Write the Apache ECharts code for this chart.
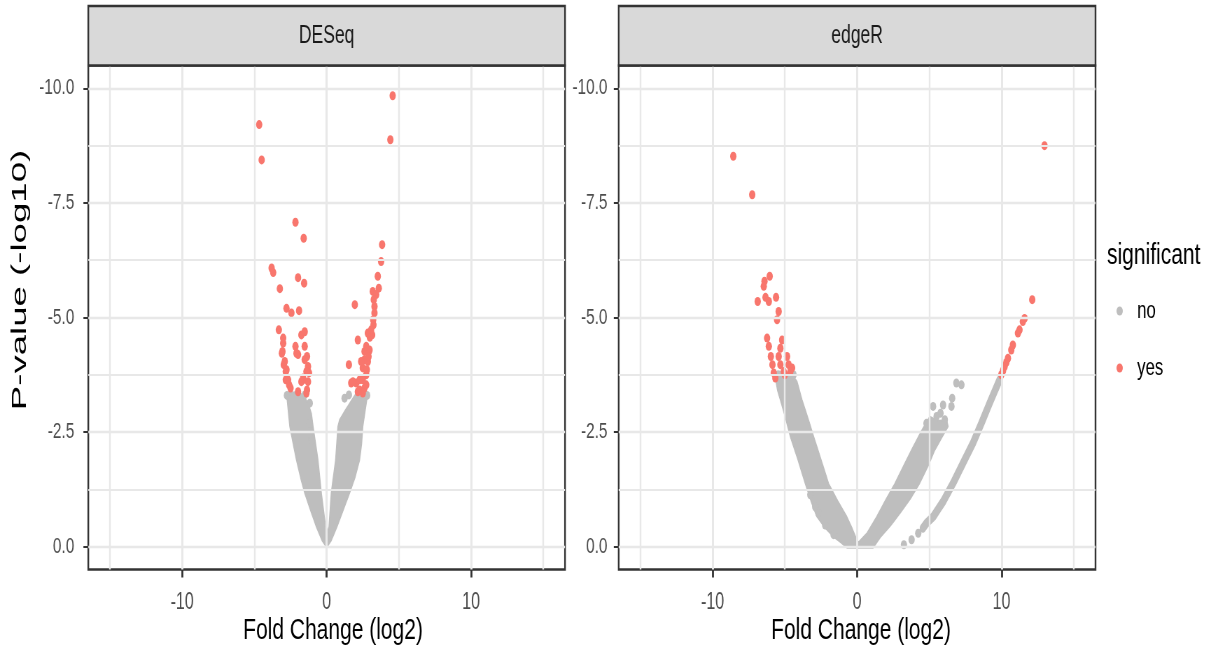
<!DOCTYPE html>
<html>
<head>
<meta charset="utf-8">
<title>Volcano plots: DESeq vs edgeR</title>
<script src="https://cdn.jsdelivr.net/npm/echarts@6/dist/echarts.min.js"></script>
<style>
  html, body { margin: 0; padding: 0; overflow: hidden; background: #fff; width: 1212px; height: 654px; }
  #chart { height: 654px; transform-origin: 0 0; }
</style>
</head>
<body>
<div id="chart"></div>
<script>
// ---- data ---------------------------------------------------------------
const panels = ['DESeq', 'edgeR'];
const legendNames = ['no', 'yes'];
const xTicks = [-10, 0, 10];
const xMinor = [-15, -5, 5, 15];
const yTicks = [-10, -7.5, -5, -2.5, 0];
const yMinor = [-8.75, -6.25, -3.75, -1.25];

// DESeq: significant genes [log2 fold change, log10 p-value]
const deseqYes = [
  [-4.67,-9.21],[-4.5,-8.44],[-2.16,-7.08],[-1.59,-6.73],[-3.81,-6.08],[-3.7,-5.98],[-3.24,-5.63],
  [-1.98,-5.87],[-1.56,-5.75],[-2.78,-5.2],[-2.44,-5.1],[-1.91,-5.15],[-3.31,-4.73],[-3.01,-4.44],
  [-3.06,-4.26],[-1.75,-4.62],[-1.52,-4.69],[-2.16,-4.37],[-1.52,-4.37],[-1.98,-4.19],[-1.36,-4.15],
  [-2.97,-3.97],[-2.83,-3.82],[-1.29,-3.93],[-1.22,-3.79],[-1.63,-3.64],[-2.6,-3.53],[-1.98,-3.38],
  [-1.36,-3.42],[-2.83,-3.64],[-3.01,-4.55],[-3.1,-4.22],[-2.9,-4.04],[-2.78,-3.86],[-2.67,-3.64],
  [-2.5,-3.46],[-1.52,-4.08],[-1.4,-3.82],[-1.63,-3.68],[-1.75,-3.6],[-1.29,-3.6],[-1.4,-3.35],
  [-2.09,-4.22],
  [4.57,-9.84],[4.41,-8.88],[3.84,-6.59],[3.77,-6.22],[3.54,-5.9],[3.61,-5.64],[3.19,-5.57],
  [3.43,-5.5],[1.95,-5.28],[3.31,-5.24],[3.24,-4.84],[3.15,-4.62],[2.99,-4.57],[2.16,-4.51],
  [2.62,-4.26],[2.97,-4.29],[2.85,-4.04],[1.54,-3.97],[2.5,-3.9],[2.74,-3.75],[1.7,-3.57],
  [2.05,-3.57],[2.5,-3.64],[2.28,-3.42],[2.62,-3.46],[2.85,-4.66],[3.08,-4.73],[2.74,-4.37],
  [2.62,-4.08],[2.9,-4.15],[2.39,-4.04],[2.78,-3.86],[1.82,-3.6],[2.28,-3.64],[2.74,-3.53],
  [2.5,-3.35],[2.16,-3.38],[3.26,-5.39],[3.31,-5.1],[3.22,-4.95]
];
// DESeq: non-significant genes lying apart from the main cloud
const deseqNo = [
  [-1.52,-3.31],[-1.17,-3.13],[-1.17,-2.69],[1.24,-3.24],[1.54,-3.31],[-1.03,-2.33],[-2.75,-3.3],[2.8,-3.3]
];
// DESeq: outline of the dense cloud of non-significant genes
const deseqCloud = [
  [-2.78,-3.35],[-2.55,-2.62],[-2.32,-2.25],[-2.09,-1.89],[-1.8,-1.5],[-1.52,-1.17],[-1.1,-0.78],
  [-0.71,-0.43],[-0.3,-0.12],[0,0.02],[0.3,-0.12],[0.71,-0.43],[1.15,-0.8],[1.59,-1.17],[1.95,-1.5],
  [2.28,-1.89],[2.42,-2.25],[2.5,-2.62],[2.68,-3.0],[2.85,-3.35],[2.05,-3.35],[1.3,-2.98],[0.9,-2.77],
  [0.78,-2.62],[0.62,-1.89],[0.32,-1.17],[0.16,-0.43],[0.02,-0.3],[-0.07,-0.43],[-0.37,-1.17],
  [-0.6,-1.89],[-0.94,-2.62],[-1.06,-2.91],[-1.29,-3.13],[-1.6,-3.3],[-2.0,-3.38]
];

// edgeR: significant genes
const edgerYes = [
  [-8.57,-8.52],[-7.26,-7.68],[-6.41,-5.79],[-6.05,-5.9],[-6.46,-5.68],[-6.88,-5.35],[-6.34,-5.44],
  [-6.11,-5.35],[-5.61,-5.44],[-5.43,-5.13],[-5.54,-4.95],[-6.23,-4.55],[-5.19,-4.51],[-6.11,-4.37],
  [-5.31,-4.33],[-5.97,-4.15],[-5.43,-4.15],[-4.85,-4.15],[-5.86,-3.97],[-5.31,-3.97],[-4.74,-3.97],
  [-4.5,-3.9],[-5.77,-3.79],[-5.08,-3.82],[-4.62,-3.82],[-5.66,-3.68],[-5.0,-3.75],
  [9.98,-3.75],[10.1,-3.84],[10.21,-3.93],[10.33,-4.02],[10.44,-4.11],[10.67,-4.29],[10.78,-4.4],
  [11.13,-4.66],[11.24,-4.73],[11.47,-4.91],[11.59,-4.98],[12.12,-5.39],[12.97,-8.75]
];
// edgeR: non-significant genes lying apart from the main cloud
const edgerNo = [
  [5.26,-3.06],[5.95,-3.09],[5.77,-2.91],[6.53,-3.06],[6.58,-3.24],[6.87,-3.57],[7.22,-3.53],
  [4.8,-2.69],[5.5,-2.84],[6.07,-2.77],[-2.67,-0.73],[-2.21,-0.47],[-1.63,-0.26],[-2.9,-0.87],
  [-3.24,-1.13],[3.24,-0.04],[3.77,-0.15],[4.23,-0.29],[-5.45,-3.75],[-4.4,-3.75]
];
// edgeR: outline of the dense cloud of non-significant genes
const edgerCloud = [
  [-5.66,-3.68],[-5.5,-3.4],[-5.31,-3.2],[-4.95,-2.8],[-4.62,-2.4],[-4.1,-1.9],[-3.59,-1.38],
  [-3.2,-1.0],[-2.78,-0.65],[-2.2,-0.4],[-1.66,-0.22],[-1.1,-0.08],[-0.7,0.03],[1.1,0.03],[1.6,-0.2],
  [2.3,-0.45],[2.97,-0.73],[3.7,-1.05],[4.34,-1.39],[4.9,-1.75],[5.38,-2.11],[5.9,-2.4],[6.3,-2.62],
  [6.2,-2.76],[5.6,-2.75],[5.03,-2.84],[4.5,-2.55],[3.77,-2.11],[3.2,-1.75],[2.62,-1.38],[1.95,-1.0],
  [1.36,-0.65],[0.7,-0.3],[0.1,-0.1],[-0.02,-0.15],[-0.35,-0.4],[-0.71,-0.65],[-1.35,-1.0],
  [-1.98,-1.38],[-2.5,-1.9],[-3.01,-2.4],[-3.4,-2.8],[-3.81,-3.2],[-4.16,-3.6],[-4.6,-3.8],[-5.2,-3.78]
];
// edgeR: narrow trail of non-significant genes on the positive side
const edgerTrail = [
  [4.55,-0.4],[4.8,-0.51],[5.26,-0.65],[5.95,-0.98],[6.64,-1.38],[7.33,-1.82],[8.02,-2.26],
  [8.6,-2.69],[9.17,-3.13],[9.86,-3.64]
];

// ---- look ---------------------------------------------------------------
const GREY = '#BEBEBE';
const RED = '#F8766D';
const FONT = '"Liberation Sans", Arial, Helvetica, sans-serif';
const S = 0.7;                      // horizontal squeeze of the whole figure
const X = v => v / S;               // page x -> canvas x
const W = 1212 / S;

const el = document.getElementById('chart');
el.style.width = W + 'px';
el.style.transform = 'scaleX(' + S + ')';

const panelBox = [
  { left: 88.3, right: 565 },
  { left: 618.7, right: 1095.5 }
];
const plotTop = 65.5, plotH = 504;

const grids = panelBox.map(b => ({
  left: X(b.left), top: plotTop, width: X(b.right) - X(b.left), height: plotH,
  show: true, borderColor: '#333333', borderWidth: 2.4, backgroundColor: '#ffffff'
}));

const xAxes = panels.map((p, i) => ({
  type: 'value', gridIndex: i, min: -16.5, max: 16.5,
  axisLine: { show: false, onZero: false },
  splitLine: { show: false },
  axisTick: { customValues: xTicks, length: 8, lineStyle: { color: '#333333', width: 2.8 } },
  axisLabel: { customValues: xTicks, fontSize: 23, fontFamily: FONT, color: '#4D4D4D', margin: 22 }
}));

const yAxes = panels.map((p, i) => ({
  type: 'value', gridIndex: i, min: -10.5, max: 0.5, inverse: true,
  axisLine: { show: false, onZero: false },
  splitLine: { show: false },
  axisTick: { customValues: yTicks, length: 7, lineStyle: { color: '#333333', width: 2 } },
  axisLabel: {
    customValues: yTicks, fontSize: 22, fontFamily: FONT, color: '#4D4D4D',
    margin: i === 0 ? 20 : 16, formatter: v => Number(v).toFixed(1)
  }
}));

function gridLines(i) {
  const data = [];
  xTicks.forEach(v => data.push({ xAxis: v, lineStyle: { width: 3 } }));
  xMinor.forEach(v => data.push({ xAxis: v, lineStyle: { width: 2.4 } }));
  yTicks.forEach(v => data.push({ yAxis: v, lineStyle: { width: 2.4 } }));
  yMinor.forEach(v => data.push({ yAxis: v, lineStyle: { width: 1.8 } }));
  return {
    type: 'line', name: 'grid-' + i, xAxisIndex: i, yAxisIndex: i, data: [], z: 1, silent: true,
    markLine: {
      silent: true, symbol: ['none', 'none'], label: { show: false }, animation: false,
      lineStyle: { color: '#E8E8E8', type: 'solid' }, emphasis: { disabled: true }, data
    }
  };
}

function dots(name, i, pts, color, z) {
  return {
    type: 'scatter', name, xAxisIndex: i, yAxisIndex: i, data: pts, z,
    symbol: 'circle', symbolSize: 9, itemStyle: { color, opacity: 1 },
    emphasis: { disabled: true }, silent: true, animation: false
  };
}

function cloud(name, i, pts) {
  return {
    type: 'custom', name, xAxisIndex: i, yAxisIndex: i, data: pts, z: 2, silent: true,
    itemStyle: { color: GREY }, animation: false,
    renderItem(params, api) {
      if (params.dataIndex !== 0) return null;
      return {
        type: 'polygon',
        shape: { points: pts.map(p => api.coord(p)) },
        style: { fill: GREY, stroke: GREY, lineWidth: 1.5, lineJoin: 'round' }
      };
    }
  };
}

function trail(name, i, pts) {
  return {
    type: 'line', name, xAxisIndex: i, yAxisIndex: i, data: pts, z: 2, silent: true,
    showSymbol: false, symbol: 'none', smooth: false, animation: false,
    itemStyle: { color: GREY },
    lineStyle: { color: GREY, width: 9, cap: 'round', join: 'round' },
    emphasis: { disabled: true }
  };
}

const series = [
  dots('no', 0, deseqNo, GREY, 2),
  dots('no', 1, edgerNo, GREY, 2),
  gridLines(0),
  gridLines(1),
  cloud('no', 0, deseqCloud),
  cloud('no', 1, edgerCloud),
  trail('no', 1, edgerTrail),
  dots('yes', 0, deseqYes, RED, 3),
  dots('yes', 1, edgerYes, RED, 3)
];

function txt(x, y, text, size, color, align, extra) {
  return Object.assign({
    type: 'text', x, y, silent: true,
    style: {
      text, fill: color, fontSize: size, fontFamily: FONT,
      align, verticalAlign: 'middle', textAlign: align, textVerticalAlign: 'middle'
    }
  }, extra || {});
}

const graphic = [];
panelBox.forEach((b, i) => {
  graphic.push({
    type: 'rect', silent: true, z: 10,
    shape: { x: X(b.left), y: 6, width: X(b.right) - X(b.left), height: plotTop - 6 },
    style: { fill: '#D9D9D9', stroke: '#333333', lineWidth: 2.4 }
  });
  graphic.push(txt(X((b.left + b.right) / 2), 36, panels[i], 25, '#1A1A1A', 'center', { z: 11 }));
});
graphic.push(txt(X(333), 631, 'Fold Change (log2)', 30, '#000000', 'center'));
graphic.push(txt(X(861), 631, 'Fold Change (log2)', 30, '#000000', 'center'));
graphic.push(txt(X(20), 280, 'P-value (-log10)', 30, '#000000', 'center',
  { rotation: Math.PI / 2, scaleX: 1.22 }));
graphic.push(txt(X(1107), 256, 'significant', 30, '#000000', 'left'));

const chart = echarts.init(el, null, { renderer: 'canvas' });
chart.setOption({
  animation: false,
  backgroundColor: '#ffffff',
  grid: grids,
  xAxis: xAxes,
  yAxis: yAxes,
  legend: {
    orient: 'vertical', left: X(1127) - 20, top: 294,
    itemWidth: 40, itemHeight: 9, itemGap: 33, icon: 'circle',
    data: legendNames, selectedMode: false,
    textStyle: { fontSize: 24, fontFamily: FONT, color: '#000000' }
  },
  graphic,
  series
});
</script>
</body>
</html>
